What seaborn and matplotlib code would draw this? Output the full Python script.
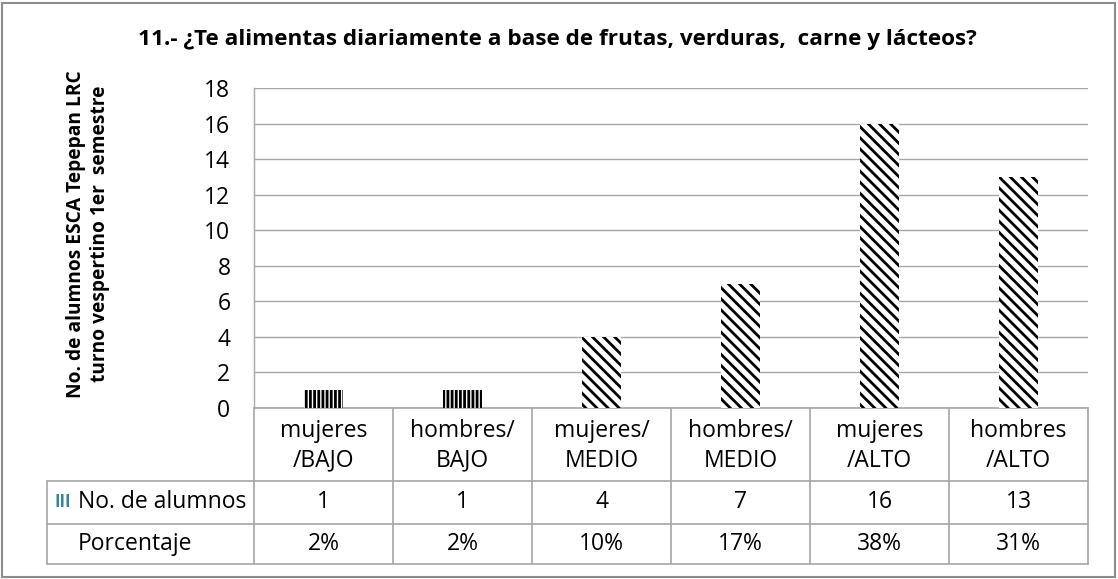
import matplotlib
matplotlib.use("Agg")
import matplotlib.pyplot as plt
import seaborn as sns
import numpy as np
from matplotlib.patches import Rectangle
from matplotlib.lines import Line2D
import matplotlib.transforms as mtransforms

categories = ["mujeres\n/BAJO", "hombres/\nBAJO", "mujeres/\nMEDIO", "hombres/\nMEDIO", "mujeres\n/ALTO", "hombres\n/ALTO"]
alumnos = [1, 1, 4, 7, 16, 13]
porcentaje = ["2%", "2%", "10%", "17%", "38%", "31%"]
hatches = ["||||", "||||", "\\\\\\", "\\\\\\", "\\\\\\", "\\\\\\"]
title = "11.- ¿Te alimentas diariamente a base de frutas, verduras,  carne y lácteos?"
ylabel = "No. de alumnos ESCA Tepepan LRC\nturno vespertino 1er  semestre"
row_labels = ["No. de alumnos", "Porcentaje"]

sns.set_theme(style="white")
plt.rcParams["font.family"] = ["Open Sans", "DejaVu Sans"]
plt.rcParams["hatch.linewidth"] = 2.0

W, H = 1118, 579
fig = plt.figure(figsize=(W / 100, H / 100), dpi=100)
fig.patch.set_facecolor("white")

ax_l, ax_r, ax_t, ax_b = 254, 1088, 88, 408
ax = fig.add_axes([ax_l / W, 1 - ax_b / H, (ax_r - ax_l) / W, (ax_b - ax_t) / H])

idx = list(range(len(categories)))
sns.barplot(x=idx, y=alumnos, ax=ax, color="white", width=0.28,
            edgecolor="black", linewidth=0, saturation=1, zorder=3)
for p, h in zip(ax.patches, hatches):
    p.set_hatch(h)
    p.set_edgecolor("black")
    p.set_linewidth(0)
    p.set_facecolor("white")

ax.set_xlim(-0.5, len(categories) - 0.5)
ax.set_ylim(0, 18)
ax.set_yticks(np.arange(0, 19, 2))
ax.yaxis.grid(True, color="#a6a6a6", linewidth=1.0, zorder=0)
ax.set_axisbelow(True)
ax.set_xticks([])
ax.set_xlabel("")
ax.tick_params(axis="y", labelsize=16.5, length=0, pad=17, colors="black")
for s in ["top", "right", "bottom"]:
    ax.spines[s].set_visible(False)
ax.spines["left"].set_color("#a6a6a6")
ax.spines["left"].set_linewidth(1.0)

# table
lc = "#a6a6a6"
axh = ax_b - ax_t
def ay(py):
    return -(py - ax_b) / axh
y_rows = [ay(408), ay(481), ay(524), ay(564)]
x_left = -(ax_l - 47) / (ax_r - ax_l)
blend = mtransforms.blended_transform_factory(ax.transData, ax.transAxes)
ax.add_line(Line2D([0, 1], [y_rows[0]] * 2, transform=ax.transAxes, color=lc, lw=1.2, clip_on=False))
for y in y_rows[1:]:
    ax.add_line(Line2D([x_left, 1], [y, y], transform=ax.transAxes, color=lc, lw=1.2, clip_on=False))
ax.add_line(Line2D([x_left, x_left], [y_rows[1], y_rows[3]], transform=ax.transAxes, color=lc, lw=1.2, clip_on=False))
for i in range(len(categories) + 1):
    ax.add_line(Line2D([i - 0.5, i - 0.5], [y_rows[0], y_rows[3]], transform=blend, color=lc, lw=1.2, clip_on=False))

fs = 16.5
for i, c in enumerate(categories):
    ax.text(i, ay(446), c, transform=blend, ha="center", va="center",
            fontsize=fs, linespacing=1.3, color="black")
    ax.text(i, ay(502), str(alumnos[i]), transform=blend, ha="center",
            va="center", fontsize=fs, color="black")
    ax.text(i, ay(544), porcentaje[i], transform=blend, ha="center",
            va="center", fontsize=fs, color="black")

fig.text(55 / W, 1 - 502 / H, "III", color="#31859c", fontsize=12, fontweight="bold", ha="left", va="center")
fig.text(78 / W, 1 - 502 / H, row_labels[0], fontsize=fs, ha="left", va="center", color="black")
fig.text(78 / W, 1 - 544 / H, row_labels[1], fontsize=fs, ha="left", va="center", color="black")

fig.text(557 / W, 1 - 39 / H, title, fontsize=16.2, fontweight="bold", ha="center", va="center", color="black")
fig.text(88 / W, 1 - 234 / H, ylabel, fontsize=13.8, fontweight="bold", ha="center", va="center",
         rotation=90, color="black", linespacing=1.25)

fig.patches.append(Rectangle((2 / W, 2 / H), (W - 5) / W, (H - 5) / H, transform=fig.transFigure,
                             fill=False, edgecolor="#8c8c8c", linewidth=1.5))

fig.savefig("out.png", dpi=100, facecolor="white")
